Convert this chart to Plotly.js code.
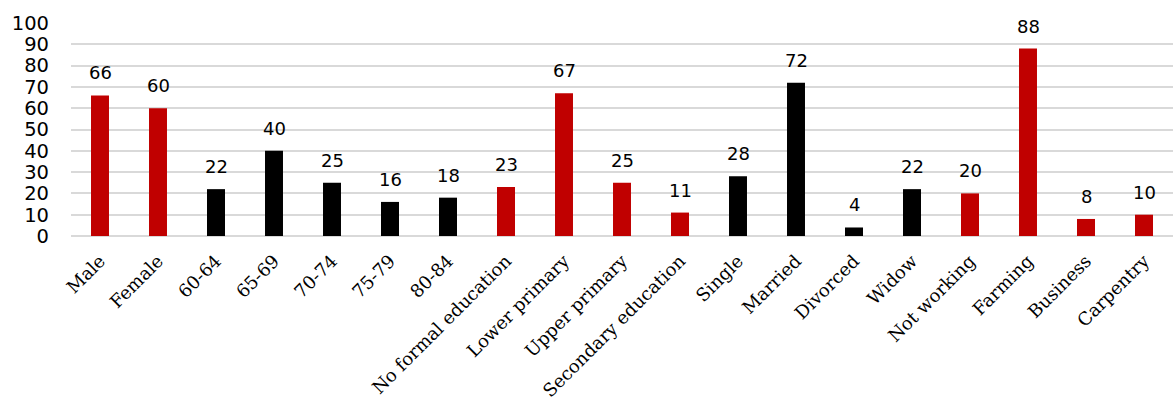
<!DOCTYPE html>
<html>
<head>
<meta charset="utf-8">
<script src="https://cdn.plot.ly/plotly-3.0.1.min.js"></script>
<style>
  html, body { margin: 0; padding: 0; background: #fff; }
  #chart { width: 1175px; height: 403px; }
</style>
</head>
<body>
<div id="chart"></div>
<script>
// Respondent characteristics (percent)
const categories = [
  "Male", "Female", "60-64", "65-69", "70-74", "75-79", "80-84",
  "No formal education", "Lower primary", "Upper primary", "Secondary education",
  "Single", "Married", "Divorced", "Widow",
  "Not working", "Farming", "Business", "Carpentry"
];
const values = [66, 60, 22, 40, 25, 16, 18, 23, 67, 25, 11, 28, 72, 4, 22, 20, 88, 8, 10];
// Group of each category: "sex", "age", "education", "marital", "occupation"
const groups = [
  "sex", "sex", "age", "age", "age", "age", "age",
  "education", "education", "education", "education",
  "marital", "marital", "marital", "marital",
  "occupation", "occupation", "occupation", "occupation"
];
const yTicks = [0, 10, 20, 30, 40, 50, 60, 70, 80, 90, 100];

const groupColor = {
  sex: "#C00000", age: "#000000", education: "#C00000",
  marital: "#000000", occupation: "#C00000"
};
const colors = groups.map(g => groupColor[g]);

const bars = {
  type: "bar",
  x: categories,
  y: values,
  marker: { color: colors, line: { width: 0 } },
  hoverinfo: "x+y"
};

const valueLabels = categories.map((c, i) => ({
  x: c,
  y: values[i],
  xref: "x",
  yref: "y",
  text: String(values[i]),
  showarrow: false,
  yanchor: "bottom",
  yshift: 10,
  font: { family: "DejaVu Sans, Verdana, sans-serif", size: 18, color: "#000" }
}));

const layout = {
  width: 1175,
  height: 403,
  margin: { l: 71, r: 2, t: 23, b: 167 },
  paper_bgcolor: "#fff",
  plot_bgcolor: "#fff",
  showlegend: false,
  bargap: 0.69,
  xaxis: {
    type: "category",
    tickangle: -45,
    tickfont: { family: "DejaVu Serif, serif", size: 18, color: "#000" },
    showgrid: false,
    showline: false,
    ticks: "",
    ticklabelstandoff: 10,
    automargin: false
  },
  yaxis: {
    range: [0, 100],
    tickvals: yTicks,
    ticktext: yTicks.map(String),
    tickfont: { family: "DejaVu Sans, Verdana, sans-serif", size: 19.5, color: "#000" },
    showgrid: true,
    gridcolor: "#d9d9d9",
    gridwidth: 2,
    zeroline: true,
    zerolinecolor: "#d9d9d9",
    zerolinewidth: 2,
    showline: false,
    ticks: "",
    ticklabelstandoff: 21,
    automargin: false
  },
  annotations: valueLabels
};

Plotly.newPlot("chart", [bars], layout, { displayModeBar: false, staticPlot: true });
</script>
</body>
</html>
